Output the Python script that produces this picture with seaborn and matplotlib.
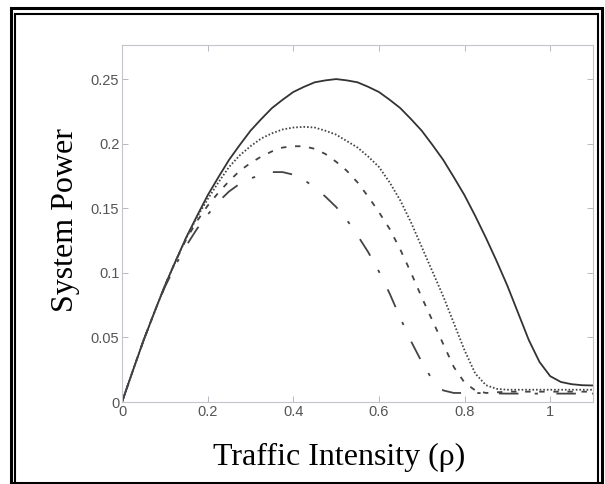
import numpy as np
import pandas as pd
import matplotlib
matplotlib.use("Agg")
import matplotlib.pyplot as plt
import seaborn as sns
from matplotlib.patches import Rectangle

# ---- data ----
rho = [0.0, 0.025, 0.05, 0.075, 0.1, 0.125, 0.15, 0.175, 0.2, 0.225, 0.25, 0.275,
       0.3, 0.325, 0.35, 0.375, 0.4, 0.425, 0.45, 0.475, 0.5, 0.525, 0.55, 0.575,
       0.6, 0.625, 0.65, 0.675, 0.7, 0.725, 0.75, 0.775, 0.8, 0.825, 0.85, 0.875,
       0.9, 0.925, 0.95, 0.975, 1.0, 1.025, 1.05, 1.075, 1.1]
power_solid = [0.0, 0.024, 0.0475, 0.069, 0.09, 0.109, 0.1275, 0.144, 0.16, 0.174, 0.1875, 0.199,
               0.21, 0.219, 0.2275, 0.234, 0.24, 0.244, 0.2475, 0.249, 0.25, 0.249, 0.2475, 0.244,
               0.24, 0.234, 0.2275, 0.219, 0.21, 0.199, 0.1875, 0.174, 0.16, 0.144, 0.127, 0.109,
               0.090, 0.069, 0.048, 0.031, 0.020, 0.0155, 0.0138, 0.013, 0.0128]
power_dotted = [0.0, 0.024, 0.0475, 0.069, 0.09, 0.109, 0.127, 0.143, 0.157, 0.170, 0.182, 0.191,
                0.198, 0.204, 0.208, 0.211, 0.2125, 0.213, 0.2125, 0.210, 0.207, 0.202, 0.197, 0.190,
                0.182, 0.170, 0.156, 0.139, 0.120, 0.101, 0.082, 0.061, 0.040, 0.022, 0.013, 0.0102,
                0.0095, 0.0095, 0.0095, 0.0095, 0.0095, 0.0095, 0.0095, 0.0095, 0.0095]
power_dashed = [0.0, 0.024, 0.0475, 0.069, 0.09, 0.109, 0.126, 0.140, 0.152, 0.162, 0.171, 0.179,
                0.185, 0.190, 0.194, 0.197, 0.198, 0.198, 0.196, 0.192, 0.186, 0.179, 0.170, 0.159,
                0.147, 0.134, 0.118, 0.100, 0.081, 0.063, 0.045, 0.027, 0.015, 0.009, 0.007, 0.0075,
                0.008, 0.008, 0.008, 0.008, 0.008, 0.008, 0.008, 0.008, 0.008]
power_dashdot = [0.0, 0.024, 0.0475, 0.069, 0.089, 0.106, 0.121, 0.134, 0.145, 0.155, 0.163, 0.169,
                 0.173, 0.176, 0.178, 0.178, 0.176, 0.172, 0.166, 0.159, 0.151, 0.141, 0.129, 0.116,
                 0.101, 0.084, 0.065, 0.047, 0.031, 0.017, 0.009, 0.007, 0.007, 0.007, 0.0068, 0.0066,
                 0.0065, 0.0065, 0.0065, 0.0065, 0.0065, 0.0065, 0.0065, 0.0065, 0.0065]
series_names = ["s1", "s2", "s3", "s4"]
x_ticks = [0, 0.2, 0.4, 0.6, 0.8, 1]
x_ticklabels = ["0", "0.2", "0.4", "0.6", "0.8", "1"]
y_ticks = [0, 0.05, 0.1, 0.15, 0.2, 0.25]
y_ticklabels = ["0", "0.05", "0.1", "0.15", "0.2", "0.25"]

frames = []
for name, vals in zip(series_names, [power_solid, power_dotted, power_dashed, power_dashdot]):
    frames.append(pd.DataFrame({"rho": rho, "power": vals, "series": name}))
df = pd.concat(frames, ignore_index=True)

sns.set_theme(style="white")
plt.rcParams["font.family"] = ["Liberation Sans", "DejaVu Sans"]

fig = plt.figure(figsize=(6.05, 4.84), dpi=100)
ax = fig.add_axes([0.2017, 0.1694, 0.7785, 0.7366])

dashes = {"s1": "", "s2": (0.9, 1.1), "s3": (3.0, 4.8), "s4": (10.8, 9.0, 1.8, 10.2)}
sns.lineplot(data=df, x="rho", y="power", hue="series", style="series",
             dashes=dashes, palette=["#333333", "#444444", "#444444", "#444444"],
             linewidth=1.3, legend=False, sort=False, estimator=None, ax=ax)

ax.set_xlim(0, 1.1)
ax.set_ylim(0, 0.276)
ax.set_xticks(x_ticks)
ax.set_xticklabels(x_ticklabels)
ax.set_yticks(y_ticks)
ax.set_yticklabels(y_ticklabels)
ax.tick_params(direction="in", length=4, width=0.7, color="#b8b8c4",
               labelsize=10.5, labelcolor="#555555", top=True, right=True,
               bottom=True, left=True, pad=2)
for sp in ax.spines.values():
    sp.set_color("#c4c4cc")
    sp.set_linewidth(0.8)
ax.set_xlabel("")
ax.set_ylabel("")

fig.text(0.561, 0.054, "Traffic Intensity (\u03c1)", family=["Liberation Serif", "DejaVu Serif"],
         fontsize=23, ha="center", va="center", color="black")
fig.text(0.108, 0.545, "System Power", family=["Liberation Serif", "DejaVu Serif"],
         fontsize=23, ha="center", va="center", rotation=90, color="black")

# double border
W, H = 605, 484
fig.patches.append(Rectangle((10.5 / W, 1.5 / H), (602 - 10.5) / W, (476.5 - 1.5) / H,
                             transform=fig.transFigure, fill=False, edgecolor="black",
                             linewidth=2.2, zorder=10))
fig.patches.append(Rectangle((15 / W, 0.5 / H), (597.5 - 15) / W, (470.5 - 0.5) / H,
                             transform=fig.transFigure, fill=False, edgecolor="black",
                             linewidth=1.5, zorder=10))

fig.savefig("out.png", dpi=100, facecolor="white")
